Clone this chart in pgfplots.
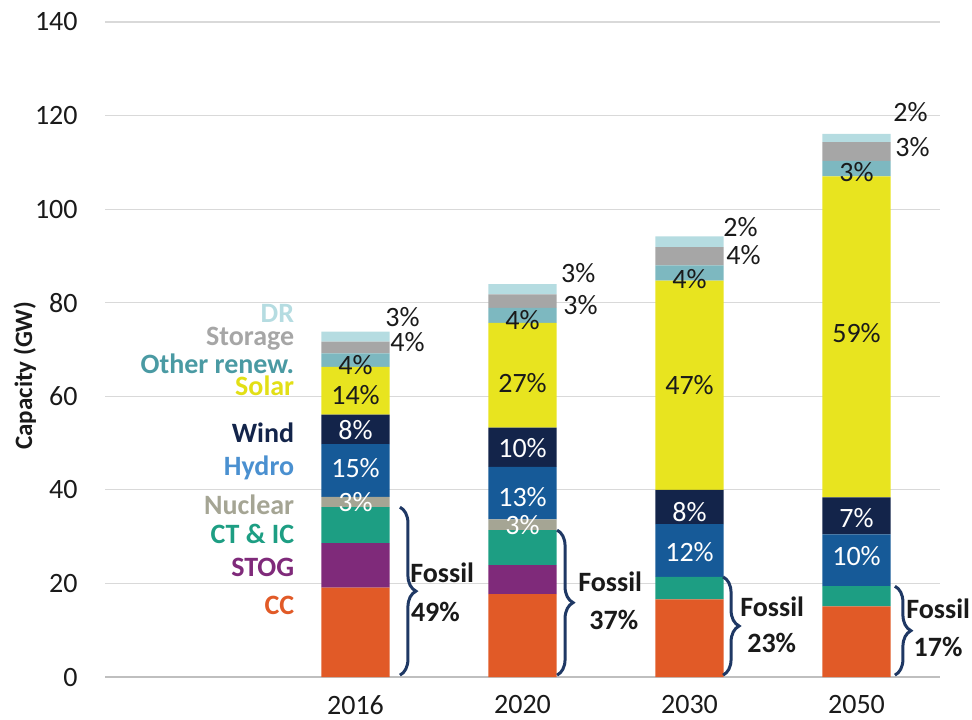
\documentclass[border=0pt]{standalone}
\usepackage{pgfplots}
\pgfplotsset{compat=1.18}
\usepackage{fontspec}
\setmainfont{Carlito}
\usetikzlibrary{decorations.pathreplacing}
\definecolor{cCC}{HTML}{E15A27}
\definecolor{cSTOG}{HTML}{7F2A7A}
\definecolor{cCT}{HTML}{1D9E83}
\definecolor{cNuc}{HTML}{A5A594}
\definecolor{cHydro}{HTML}{165A98}
\definecolor{cHydroT}{HTML}{4A90D0}
\definecolor{cWind}{HTML}{13244A}
\definecolor{cSolar}{HTML}{E8E41F}
\definecolor{cSolarT}{HTML}{E2DF16}
\definecolor{cOther}{HTML}{7DB8C0}
\definecolor{cOtherT}{HTML}{4A9AA3}
\definecolor{cStor}{HTML}{A6A6A6}
\definecolor{cDR}{HTML}{B5DCE1}
\definecolor{gridgray}{HTML}{D9D9D9}
\definecolor{axisgray}{HTML}{BFBFBF}
\definecolor{txtdark}{HTML}{1A1A1A}
\definecolor{bracecol}{HTML}{1F3864}
\begin{document}
\begin{tikzpicture}[
  pct/.style={font=\fontsize{14}{16}\selectfont, text=txtdark, inner sep=0pt},
  pctw/.style={font=\fontsize{14}{16}\selectfont, text=white, inner sep=0pt},
  cat/.style={font=\fontsize{14}{16}\selectfont\bfseries, inner sep=0pt, anchor=east},
  fos/.style={font=\fontsize{14}{16}\selectfont\bfseries, text=txtdark, inner sep=0pt, anchor=west},
  br/.style={draw=bracecol, line width=1.5pt, decorate, decoration={brace, amplitude=8pt}},
]
\begin{axis}[
  scale only axis, width=417.5pt, height=327.5pt,
  xmin=-0.5, xmax=4.5, ymin=0, ymax=140,
  ybar stacked, bar width=0.41,
  xtick={1,2,3,4}, xticklabels={2016,2020,2030,2050},
  ytick={0,20,...,140},
  ymajorgrids, grid style={draw=gridgray, line width=0.6pt},
  axis lines*=left,
  y axis line style={draw=none},
  x axis line style={draw=axisgray, line width=0.8pt},
  major tick length=0pt,
  /pgf/number format/assume math mode=true,
  ticklabel style={font=\fontsize{14}{16}\selectfont, text=txtdark},
  yticklabel style={anchor=east, inner sep=0pt, xshift=-13.5pt},
  xticklabel style={anchor=north, inner sep=0pt, yshift=-9pt},
  ylabel={Capacity (GW)},
  ylabel style={font=\fontsize{12.5}{14}\selectfont\bfseries, text=txtdark, at={(axis description cs:-0.096,0.46)}, anchor=center},
  clip=false,
]
\addplot[fill=cCC, draw=none] coordinates {(1,19.1) (2,17.7) (3,16.6) (4,15.1)};
\addplot[fill=cSTOG, draw=none] coordinates {(1,9.5) (2,6.2) (3,0) (4,0)};
\addplot[fill=cCT, draw=none] coordinates {(1,7.7) (2,7.5) (3,4.8) (4,4.3)};
\addplot[fill=cNuc, draw=none] coordinates {(1,2.2) (2,2.3) (3,0) (4,0)};
\addplot[fill=cHydro, draw=none] coordinates {(1,11.3) (2,11.2) (3,11.3) (4,11.1)};
\addplot[fill=cWind, draw=none] coordinates {(1,6.3) (2,8.4) (3,7.3) (4,7.9)};
\addplot[fill=cSolar, draw=none] coordinates {(1,10.2) (2,22.4) (3,44.7) (4,68.6)};
\addplot[fill=cOther, draw=none] coordinates {(1,2.9) (2,3.2) (3,3.3) (4,3.3)};
\addplot[fill=cStor, draw=none] coordinates {(1,2.5) (2,2.9) (3,3.9) (4,4.0)};
\addplot[fill=cDR, draw=none] coordinates {(1,2.1) (2,2.2) (3,2.3) (4,1.8)};

% category labels
\coordinate (cDR) at (axis cs:0.635,77.8);
\coordinate (cSt) at (axis cs:0.635,72.4);
\coordinate (cOt) at (axis cs:0.635,67.0);
\coordinate (cSo) at (axis cs:0.635,62.2);
\coordinate (cWi) at (axis cs:0.635,52.3);
\coordinate (cHy) at (axis cs:0.635,44.7);
\coordinate (cNu) at (axis cs:0.635,36.9);
\coordinate (cCT) at (axis cs:0.635,30.5);
\coordinate (cST) at (axis cs:0.635,23.4);
\coordinate (cCC) at (axis cs:0.635,15.2);
% 2016
\coordinate (a1) at (axis cs:1.177,77.0);
\coordinate (a2) at (axis cs:1.207,71.6);
\coordinate (a3) at (axis cs:1,66.7);
\coordinate (a4) at (axis cs:1,60.3);
\coordinate (a5) at (axis cs:1,52.8);
\coordinate (a6) at (axis cs:1,44.7);
\coordinate (a7) at (axis cs:1,37.4);
% 2020
\coordinate (b1) at (axis cs:2.229,86.4);
\coordinate (b2) at (axis cs:2.243,79.5);
\coordinate (b3) at (axis cs:2,76.3);
\coordinate (b4) at (axis cs:2,62.8);
\coordinate (b5) at (axis cs:2,48.9);
\coordinate (b6) at (axis cs:2,38.5);
\coordinate (b7) at (axis cs:2,32.5);
% 2030
\coordinate (c1) at (axis cs:3.20,96.2);
\coordinate (c2) at (axis cs:3.218,90.2);
\coordinate (c3) at (axis cs:3,85.0);
\coordinate (c4) at (axis cs:3,62.4);
\coordinate (c5) at (axis cs:3,35.3);
\coordinate (c6) at (axis cs:3,26.7);
% 2050
\coordinate (d1) at (axis cs:4.219,120.7);
\coordinate (d2) at (axis cs:4.23,113.2);
\coordinate (d3) at (axis cs:4,107.9);
\coordinate (d4) at (axis cs:4,73.6);
\coordinate (d5) at (axis cs:4,34.0);
\coordinate (d6) at (axis cs:4,25.9);
% fossil
\coordinate (f1t) at (axis cs:1.266,36.3); \coordinate (f1b) at (axis cs:1.266,0.4);
\coordinate (f1a) at (axis cs:1.326,22.2); \coordinate (f1p) at (axis cs:1.33,13.9);
\coordinate (f2t) at (axis cs:2.207,31.4); \coordinate (f2b) at (axis cs:2.207,0.4);
\coordinate (f2a) at (axis cs:2.332,20.3); \coordinate (f2p) at (axis cs:2.398,12.2);
\coordinate (f3t) at (axis cs:3.201,21.4); \coordinate (f3b) at (axis cs:3.201,0.4);
\coordinate (f3a) at (axis cs:3.302,15.0); \coordinate (f3p) at (axis cs:3.344,7.3);
\coordinate (f4t) at (axis cs:4.23,19.4); \coordinate (f4b) at (axis cs:4.23,0.4);
\coordinate (f4a) at (axis cs:4.296,14.5); \coordinate (f4p) at (axis cs:4.34,6.4);
\end{axis}

\node[cat, text=cDR] at (cDR) {DR};
\node[cat, text=cStor] at (cSt) {Storage};
\node[cat, text=cOtherT] at (cOt) {Other renew.};
\node[cat, text=cSolarT] at (cSo) {Solar};
\node[cat, text=cWind] at (cWi) {Wind};
\node[cat, text=cHydroT] at (cHy) {Hydro};
\node[cat, text=cNuc] at (cNu) {Nuclear};
\node[cat, text=cCT] at (cCT) {CT \& IC};
\node[cat, text=cSTOG] at (cST) {STOG};
\node[cat, text=cCC] at (cCC) {CC};

\node[pct, anchor=west] at (a1) {3\%};
\node[pct, anchor=west] at (a2) {4\%};
\node[pct] at (a3) {4\%};
\node[pct] at (a4) {14\%};
\node[pctw] at (a5) {8\%};
\node[pctw] at (a6) {15\%};
\node[pctw] at (a7) {3\%};

\node[pct, anchor=west] at (b1) {3\%};
\node[pct, anchor=west] at (b2) {3\%};
\node[pct] at (b3) {4\%};
\node[pct] at (b4) {27\%};
\node[pctw] at (b5) {10\%};
\node[pctw] at (b6) {13\%};
\node[pctw] at (b7) {3\%};

\node[pct, anchor=west] at (c1) {2\%};
\node[pct, anchor=west] at (c2) {4\%};
\node[pct] at (c3) {4\%};
\node[pct] at (c4) {47\%};
\node[pctw] at (c5) {8\%};
\node[pctw] at (c6) {12\%};

\node[pct, anchor=west] at (d1) {2\%};
\node[pct, anchor=west] at (d2) {3\%};
\node[pct] at (d3) {3\%};
\node[pct] at (d4) {59\%};
\node[pctw] at (d5) {7\%};
\node[pctw] at (d6) {10\%};

\draw[br] (f1t) -- (f1b);
\node[fos] at (f1a) {Fossil};
\node[fos] at (f1p) {49\%};
\draw[br] (f2t) -- (f2b);
\node[fos] at (f2a) {Fossil};
\node[fos] at (f2p) {37\%};
\draw[br] (f3t) -- (f3b);
\node[fos] at (f3a) {Fossil};
\node[fos] at (f3p) {23\%};
\draw[br] (f4t) -- (f4b);
\node[fos] at (f4a) {Fossil};
\node[fos] at (f4p) {17\%};

\pgfresetboundingbox
\path (current axis.south west) ++(-52.5pt,-21pt) rectangle ++(486pt,359.5pt);
\end{tikzpicture}
\end{document}
